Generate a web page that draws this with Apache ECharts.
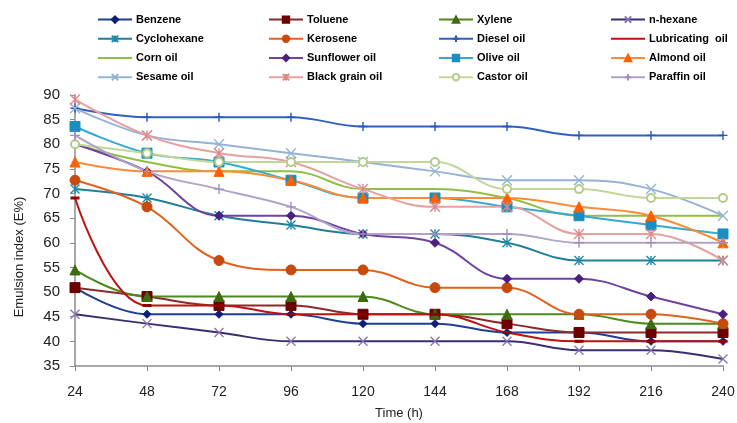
<!DOCTYPE html>
<html>
<head>
<meta charset="utf-8">
<script src="https://cdn.jsdelivr.net/npm/echarts@6/dist/echarts.min.js"></script>
<style>html,body{margin:0;padding:0;background:#fff}#c{width:737px;height:423px}</style>
</head>
<body>
<div id="c"></div>
<script>
const categories = ['24','48','72','96','120','144','168','192','216','240'];
const yTicks = [35,40,45,50,55,60,65,70,75,80,85,90];

const benzene     = [50.9,45.5,45.5,45.5,43.6,43.6,41.8,41.8,40.0,40.0];
const toluene     = [50.9,49.1,47.3,47.3,45.5,45.5,43.6,41.8,41.8,41.8];
const xylene      = [54.5,49.1,49.1,49.1,49.1,45.5,45.5,45.5,43.6,43.6];
const nHexane     = [45.5,43.6,41.8,40.0,40.0,40.0,40.0,38.2,38.2,36.4];
const cyclohexane = [70.9,69.1,65.5,63.6,61.8,61.8,60.0,56.4,56.4,56.4];
const kerosene    = [72.7,67.3,56.4,54.5,54.5,50.9,50.9,45.5,45.5,43.6];
const dieselOil   = [87.3,85.5,85.5,85.5,83.6,83.6,83.6,81.8,81.8,81.8];
const lubricating = [69.1,47.3,47.3,45.5,45.5,45.5,41.8,40.0,40.0,40.0];
const cornOil     = [80.0,76.4,74.5,74.5,70.9,70.9,69.1,65.5,65.5,65.5];
const sunflower   = [80.0,74.5,65.5,65.5,61.8,60.0,52.7,52.7,49.1,45.5];
const oliveOil    = [83.6,78.2,76.4,72.7,69.1,69.1,67.3,65.5,63.6,61.8];
const almondOil   = [76.4,74.5,74.5,72.7,69.1,69.1,69.1,67.3,65.5,60.0];
const sesameOil   = [87.3,81.8,80.0,78.2,76.4,74.5,72.7,72.7,70.9,65.5];
const blackGrain  = [89.1,81.8,78.2,76.4,70.9,67.3,67.3,61.8,61.8,56.4];
const castorOil   = [80.0,78.2,76.4,76.4,76.4,76.4,70.9,70.9,69.1,69.1];
const paraffinOil = [81.8,74.5,70.9,67.3,61.8,61.8,61.8,60.0,60.0,60.0];

const X = 'path://M0,0L10,10M10,0L0,10';
const PLUS = 'path://M5,0L5,10M0,5L10,5';
const STAR = 'path://M0,0L10,10M10,0L0,10M5,0L5,10';

function s(name, data, color, symbol, size, mcolor) {
  const o = {
    name, type: 'line', data, smooth: 0.4,
    symbol: symbol || 'none', symbolSize: size || 7, showSymbol: !!symbol,
    lineStyle: { color, width: 2 },
    itemStyle: { color: mcolor || color, borderColor: mcolor || color, borderWidth: 1 },
    emphasis: { disabled: true }, z: 2
  };
  if (symbol && symbol.indexOf('path://') === 0) o.itemStyle.borderWidth = 1.4;
  if (symbol === 'emptyCircle') o.itemStyle = { color: mcolor, borderWidth: 1.4 };
  return o;
}

const series = [
  s('Benzene', benzene, '#1f3f95', 'diamond', 8, '#0c1f7a'),
  s('Toluene', toluene, '#8a2a2a', 'rect', 10, '#6b0000'),
  s('Xylene', xylene, '#4f8a1f', 'triangle', 10, '#3f6b10'),
  s('n-hexane', nHexane, '#3a2d70', X, 9, '#8a78b0'),
  s('Cyclohexane', cyclohexane, '#207e98', STAR, 9, '#1f8aa8'),
  s('Kerosene', kerosene, '#e0621f', 'circle', 10, '#c84a0c'),
  s('Diesel oil', dieselOil, '#3060c0', PLUS, 9, '#2a55b0'),
  s('Lubricating  oil', lubricating, '#c01010', 'rect', [6, 2], '#900000'),
  s('Corn oil', cornOil, '#8fc044', null),
  s('Sunflower oil', sunflower, '#7042a0', 'diamond', 9, '#4a1f82'),
  s('Olive oil', oliveOil, '#35a9d0', 'rect', 10, '#1a8fbf'),
  s('Almond oil', almondOil, '#ff8a3a', 'triangle', 10, '#ff6000'),
  s('Sesame oil', sesameOil, '#95b3d7', X, 10, '#95b3d7'),
  s('Black grain oil', blackGrain, '#e6a0a0', STAR, 10, '#e08888'),
  s('Castor oil', castorOil, '#c3d69b', 'emptyCircle', 8, '#b3cc88'),
  s('Paraffin oil', paraffinOil, '#b3a2c7', PLUS, 10, '#a090c0')
];

const cols = [
  ['Benzene','Cyclohexane',{name:'Corn oil', itemStyle:{opacity:0}},'Sesame oil'],
  ['Toluene','Kerosene','Sunflower oil','Black grain oil'],
  ['Xylene','Diesel oil','Olive oil','Castor oil'],
  ['n-hexane',{name:'Lubricating  oil', itemStyle:{opacity:0}},'Almond oil','Paraffin oil']
];
const colLeft = [97, 268, 438, 610];
const legends = cols.map((d, i) => ({
  data: d, orient: 'vertical', left: colLeft[i], top: 10, padding: 0,
  itemWidth: 34, itemHeight: 8, itemGap: 0,
  selectedMode: false,
  textStyle: { fontFamily: 'Liberation Sans', fontWeight: 'bold', fontSize: 11, color: '#000', lineHeight: 19.2, padding: [0,0,0,-1] }
}));

const chart = echarts.init(document.getElementById('c'), null, { renderer: 'canvas' });
chart.setOption({
  animation: false,
  backgroundColor: '#fff',
  legend: legends,
  grid: { left: 75, right: 14, top: 95, bottom: 57, containLabel: false, outerBoundsMode: 'none' },
  xAxis: {
    type: 'category', data: categories, boundaryGap: false,
    name: 'Time (h)', nameLocation: 'middle', nameGap: 41,
    nameTextStyle: { fontFamily: 'Liberation Sans', fontSize: 13, color: '#222' },
    axisLine: { lineStyle: { color: '#8c8c8c', width: 1.5 } },
    axisTick: { show: true, alignWithLabel: true, length: 5, lineStyle: { color: '#8c8c8c' } },
    axisLabel: { fontFamily: 'Liberation Sans', fontSize: 14, color: '#222', margin: 19 }
  },
  yAxis: {
    type: 'value', min: yTicks[0], max: yTicks[yTicks.length - 1], interval: 5,
    axisLine: { show: true, lineStyle: { color: '#8c8c8c', width: 1.5 } },
    axisTick: { show: true, length: 5, lineStyle: { color: '#8c8c8c' } },
    splitLine: { show: false },
    axisLabel: { fontFamily: 'Liberation Sans', fontSize: 15, color: '#222', margin: 15 }
  },
  graphic: [{
    type: 'text', x: 19, y: 257, rotation: Math.PI / 2,
    style: { text: 'Emulsion index (E%)', font: '13px "Liberation Sans"', fill: '#222', textAlign: 'center', textVerticalAlign: 'middle' }
  }],
  series
});
</script>
</body>
</html>
